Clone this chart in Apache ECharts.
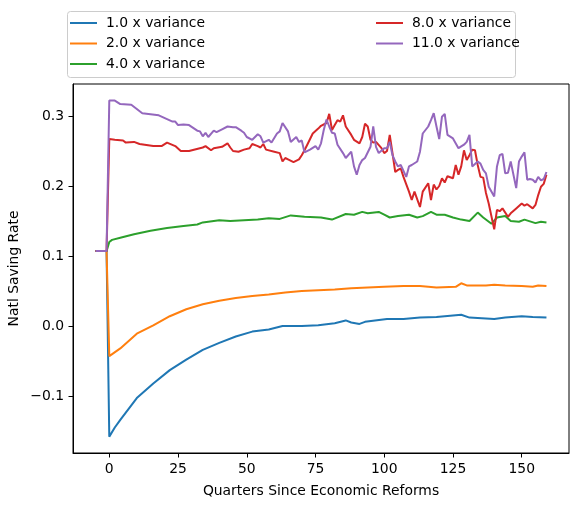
<!DOCTYPE html>
<html>
<head>
<meta charset="utf-8">
<script src="https://cdn.jsdelivr.net/npm/echarts@6.0.0/dist/echarts.min.js"></script>
<style>
html,body{margin:0;padding:0;background:#fff;}
#chart{width:578px;height:507px;}
</style>
</head>
<body>
<div id="chart"></div>
<script>
const seriesNames = ['1.0 x variance','2.0 x variance','4.0 x variance','8.0 x variance','11.0 x variance'];
const seriesColors = ['#1f77b4','#ff7f0e','#2ca02c','#d62728','#9467bd'];
const xTicks = [0,25,50,75,100,125,150];
const yTicks = [-0.1,0.0,0.1,0.2,0.3];
const xLabel = 'Quarters Since Economic Reforms';
const yLabel = 'Natl Saving Rate';

const pre = [[-5,0.107],[-4,0.107],[-3,0.107],[-2,0.107],[-1,0.107]];

const var1 = pre.concat([[0,-0.158],[2,-0.145],[4,-0.134],[10,-0.103],[16,-0.082],[22,-0.063],[28,-0.048],[34,-0.034],[40,-0.024],[46,-0.015],[52,-0.008],[58,-0.005],[63,0.000],[70,0.000],[76,0.001],[82,0.004],[86,0.008],[88,0.005],[91,0.003],[93,0.006],[101,0.010],[107,0.010],[113,0.012],[119,0.013],[128,0.016],[131,0.012],[140,0.010],[144,0.012],[150,0.014],[154,0.013],[159,0.012]]);

const var2 = pre.concat([[0,-0.043],[4,-0.032],[10,-0.011],[16,0.001],[22,0.014],[28,0.024],[34,0.031],[40,0.036],[46,0.040],[52,0.043],[58,0.045],[64,0.048],[70,0.050],[76,0.051],[82,0.052],[88,0.054],[94,0.055],[100,0.056],[107,0.057],[113,0.057],[119,0.055],[126,0.056],[128,0.061],[130,0.058],[137,0.058],[140,0.059],[144,0.058],[150,0.057],[154,0.056],[156,0.058],[159,0.057]]);

const var4 = pre.concat([[0,0.120],[1,0.123],[4,0.126],[9,0.131],[15,0.136],[21,0.140],[27,0.143],[32,0.145],[34,0.148],[40,0.151],[44,0.150],[49,0.151],[54,0.152],[58,0.154],[62,0.153],[66,0.158],[71,0.156],[77,0.155],[81,0.152],[86,0.160],[89,0.159],[92,0.163],[94,0.161],[98,0.163],[100,0.159],[102,0.155],[105,0.157],[109,0.159],[112,0.155],[114,0.157],[117,0.163],[119,0.159],[122,0.159],[125,0.155],[128,0.152],[131,0.150],[134,0.162],[136,0.155],[139,0.146],[141,0.155],[144,0.157],[146,0.150],[149,0.149],[151,0.152],[155,0.147],[157,0.149],[159,0.148]]);

const var8 = pre.concat([[0,0.267],[2,0.266],[5,0.265],[6,0.262],[9,0.263],[11,0.260],[16,0.257],[19,0.257],[21,0.262],[24,0.257],[26,0.250],[29,0.250],[34,0.255],[35,0.257],[37,0.251],[38,0.254],[41,0.256],[43,0.261],[44,0.255],[45,0.250],[47,0.249],[49,0.252],[51,0.254],[52,0.260],[54,0.257],[55,0.255],[56,0.260],[57,0.252],[60,0.249],[62,0.247],[63,0.235],[64,0.240],[65,0.238],[67,0.234],[69,0.238],[70,0.244],[71,0.251],[72,0.259],[74,0.275],[76,0.282],[77,0.286],[79,0.290],[80,0.303],[81,0.280],[82,0.287],[83,0.294],[84,0.292],[85,0.301],[86,0.285],[88,0.273],[89,0.266],[91,0.261],[92,0.270],[93,0.289],[94,0.285],[95,0.266],[96,0.262],[97,0.263],[99,0.254],[100,0.247],[101,0.250],[102,0.273],[103,0.247],[104,0.220],[105,0.223],[106,0.225],[107,0.213],[109,0.192],[110,0.180],[111,0.192],[113,0.170],[114,0.192],[116,0.204],[117,0.180],[118,0.202],[119,0.195],[120,0.200],[121,0.211],[122,0.205],[123,0.214],[125,0.211],[126,0.230],[127,0.216],[128,0.228],[129,0.251],[130,0.237],[131,0.244],[132,0.252],[133,0.251],[134,0.230],[135,0.213],[136,0.212],[137,0.190],[138,0.175],[140,0.138],[141,0.166],[142,0.164],[143,0.168],[145,0.156],[146,0.161],[148,0.168],[150,0.175],[151,0.172],[152,0.174],[154,0.168],[155,0.173],[156,0.187],[157,0.199],[158,0.203],[159,0.216]]);

const var11 = pre.concat([[0,0.322],[2,0.322],[4,0.317],[8,0.316],[12,0.304],[18,0.301],[23,0.292],[24,0.292],[25,0.287],[27,0.288],[29,0.287],[32,0.279],[33,0.278],[34,0.271],[35,0.276],[36,0.270],[38,0.279],[39,0.277],[41,0.281],[43,0.285],[45,0.284],[46,0.284],[48,0.279],[49,0.276],[50,0.270],[52,0.266],[54,0.274],[55,0.271],[56,0.262],[58,0.266],[59,0.262],[61,0.275],[62,0.278],[63,0.290],[65,0.278],[66,0.263],[68,0.270],[69,0.263],[70,0.265],[71,0.248],[73,0.252],[75,0.257],[76,0.252],[77,0.261],[78,0.280],[79,0.295],[80,0.285],[81,0.276],[82,0.275],[83,0.259],[85,0.247],[86,0.240],[88,0.249],[89,0.228],[90,0.216],[91,0.230],[92,0.237],[93,0.240],[95,0.256],[96,0.285],[97,0.256],[98,0.247],[100,0.254],[101,0.254],[102,0.263],[103,0.244],[104,0.235],[105,0.228],[106,0.230],[108,0.213],[109,0.228],[110,0.230],[112,0.235],[113,0.249],[114,0.275],[116,0.285],[117,0.294],[118,0.304],[119,0.285],[120,0.267],[121,0.299],[122,0.303],[123,0.273],[125,0.268],[127,0.254],[129,0.259],[130,0.263],[131,0.273],[132,0.228],[134,0.235],[135,0.232],[136,0.223],[137,0.218],[138,0.199],[140,0.185],[141,0.228],[142,0.244],[143,0.246],[144,0.218],[145,0.219],[146,0.235],[148,0.197],[149,0.235],[150,0.242],[151,0.248],[152,0.209],[153,0.210],[154,0.209],[155,0.205],[156,0.213],[157,0.208],[158,0.210],[159,0.220]]);

const allData = [var1, var2, var4, var8, var11];

const FONT = 'DejaVu Sans';
const FS = 13.9;

const chart = echarts.init(document.getElementById('chart'), null, {renderer: 'canvas'});

const legendCommon = {
  orient: 'vertical',
  icon: 'rect',
  itemWidth: 27,
  itemHeight: 2,
  itemGap: 6.5,
  padding: 0,
  selectedMode: false,
  textStyle: {fontFamily: FONT, fontSize: FS, color: '#000', lineHeight: 14, padding: [0,0,0,4]}
};

chart.setOption({
  animation: false,
  backgroundColor: '#fff',
  graphic: [{
    type: 'rect',
    z: 0,
    shape: {x: 67.5, y: 11.5, width: 448, height: 66, r: 3},
    style: {fill: 'rgba(255,255,255,0.8)', stroke: '#cccccc', lineWidth: 1}
  }],
  legend: [
    Object.assign({}, legendCommon, {left: 70, top: 16, data: seriesNames.slice(0,3)}),
    Object.assign({}, legendCommon, {left: 376, top: 16, data: seriesNames.slice(3)})
  ],
  grid: {left: 73, right: 9, top: 84, bottom: 54, show: true, borderColor: '#000', borderWidth: 1, containLabel: false, outerBoundsMode: 'none'},
  xAxis: {
    type: 'value',
    min: -13.2, max: 167.2,
    name: xLabel, nameLocation: 'middle', nameGap: 31, nameMoveOverlap: false,
    nameTextStyle: {fontFamily: FONT, fontSize: FS, color: '#000'},
    axisLine: {show: true, onZero: false, lineStyle: {color: '#000', width: 1}},
    axisTick: {show: true, length: 4.5, customValues: xTicks, lineStyle: {color: '#000'}},
    axisLabel: {customValues: xTicks, margin: 9, fontFamily: FONT, fontSize: FS, color: '#000'},
    splitLine: {show: false}
  },
  yAxis: {
    type: 'value',
    min: -0.1814, max: 0.3457,
    name: yLabel, nameLocation: 'middle', nameGap: 52, nameMoveOverlap: false,
    nameTextStyle: {fontFamily: FONT, fontSize: FS, color: '#000'},
    axisLine: {show: true, onZero: false, lineStyle: {color: '#000', width: 1}},
    axisTick: {show: true, length: 4.5, customValues: yTicks, lineStyle: {color: '#000'}},
    axisLabel: {customValues: yTicks, margin: 9, fontFamily: FONT, fontSize: FS, color: '#000',
      formatter: function (v) { return v < -1e-9 ? '\u2212' + Math.abs(v).toFixed(1) : Math.abs(v).toFixed(1); }},
    splitLine: {show: false}
  },
  series: seriesNames.map(function (n, i) {
    return {
      name: n,
      type: 'line',
      data: allData[i],
      symbol: 'none',
      color: seriesColors[i],
      lineStyle: {width: 2, color: seriesColors[i]},
      z: 2 + i
    };
  })
});
</script>
</body>
</html>
